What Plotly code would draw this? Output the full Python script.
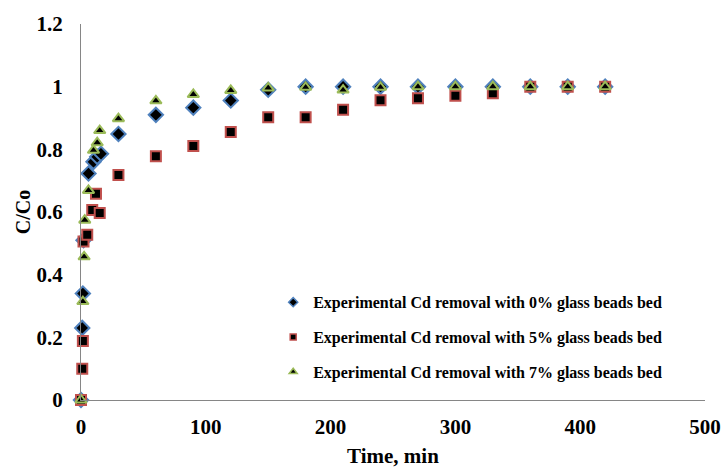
import plotly.graph_objects as go

# Series 1: 0% glass beads bed
t0 = [0, 1, 1.5, 2, 6, 10, 13, 16, 30, 60, 90, 120, 150, 180, 210, 240, 270, 300, 330, 360, 390, 420]
c0 = [0, 0.23, 0.34, 0.51, 0.723, 0.76, 0.776, 0.786, 0.849, 0.91, 0.933, 0.956, 0.99, 1.0, 1.0, 1.0, 1.0, 1.0, 1.0, 1.0, 1.0, 1.0]

# Series 2: 5% glass beads bed
t5 = [0, 1, 1.5, 2, 5, 9, 12, 15, 30, 60, 90, 120, 150, 180, 210, 240, 270, 300, 330, 360, 390, 420]
c5 = [0, 0.10, 0.188, 0.506, 0.527, 0.606, 0.658, 0.597, 0.718, 0.778, 0.811, 0.855, 0.902, 0.902, 0.926, 0.957, 0.963, 0.971, 0.979, 1.0, 1.0, 1.0]

# Series 3: 7% glass beads bed
t7 = [0, 1.5, 2.5, 3, 6, 10, 13, 15, 30, 60, 90, 120, 150, 180, 210, 240, 270, 300, 330, 360, 390, 420]
c7 = [0, 0.314, 0.457, 0.574, 0.669, 0.797, 0.821, 0.86, 0.898, 0.955, 0.975, 0.988, 0.996, 0.998, 0.989, 0.998, 1.0, 1.0, 1.0, 1.0, 1.0, 1.0]

names = [
    "Experimental Cd removal with 0% glass beads bed",
    "Experimental Cd removal with 5% glass beads bed",
    "Experimental Cd removal with 7% glass beads bed",
]

x_ticks = [0, 100, 200, 300, 400, 500]
x_tick_text = ["0", "100", "200", "300", "400", "500"]
y_ticks = [0, 0.2, 0.4, 0.6, 0.8, 1.0, 1.2]
y_tick_text = ["0", "0.2", "0.4", "0.6", "0.8", "1", "1.2"]

series = [
    (t0, c0, "diamond", 11, 7, "#4F81BD", "a"),
    (t5, c5, "square", 10, 6, "#C0504D", "b"),
    (t7, c7, "triangle-up", 10, 7, "#9BBB59", "c"),
]

fig = go.Figure()
for (tx, cy, sym, size, lsize, col, grp), nm in zip(series, names):
    fig.add_trace(go.Scatter(x=tx, y=cy, mode="markers", name=nm, legendgroup=grp,
                             showlegend=False,
                             marker=dict(symbol=sym, size=size, color="black",
                                         line=dict(color=col, width=2)),
                             cliponaxis=False))
    # legend entry with small marker (as in the original)
    fig.add_trace(go.Scatter(x=[None], y=[None], mode="markers", name="<b>" + nm + "</b>",
                             legendgroup=grp, showlegend=True,
                             marker=dict(symbol=sym, size=lsize, color="black",
                                         line=dict(color=col, width=1.5))))

font_family = "Liberation Serif"

fig.update_layout(
    width=722, height=472,
    margin=dict(l=81, r=17, t=18, b=72),
    paper_bgcolor="white", plot_bgcolor="white",
    font=dict(family=font_family, color="black"),
    showlegend=True,
    legend=dict(x=0.308, y=0.305, xanchor="left", yanchor="top",
                font=dict(size=16, family=font_family, color="black", weight="bold"),
                tracegroupgap=11, itemsizing="trace", itemwidth=30,
                bgcolor="rgba(0,0,0,0)"),
    xaxis=dict(range=[0, 500], tickvals=x_ticks, ticktext=["<b>%s</b>" % s for s in x_tick_text],
               showgrid=False, zeroline=False, automargin=False,
               showline=True, linecolor="#868686", linewidth=1, ticks="",
               ticklabelstandoff=8,
               tickfont=dict(size=21, family=font_family, weight="bold"),
               title=dict(text="<b>Time, min</b>", font=dict(size=21, family=font_family), standoff=10)),
    yaxis=dict(range=[0, 1.2], tickvals=y_ticks, ticktext=["<b>%s</b>" % s for s in y_tick_text],
               showgrid=False, zeroline=False,
               showline=True, linecolor="#868686", linewidth=1, ticks="",
               ticklabelstandoff=13,
               tickfont=dict(size=21, family=font_family, weight="bold"),
               title=dict(text="<b>C/Co</b>", font=dict(size=20, family=font_family), standoff=0)),
)

fig.write_html("out.html")
